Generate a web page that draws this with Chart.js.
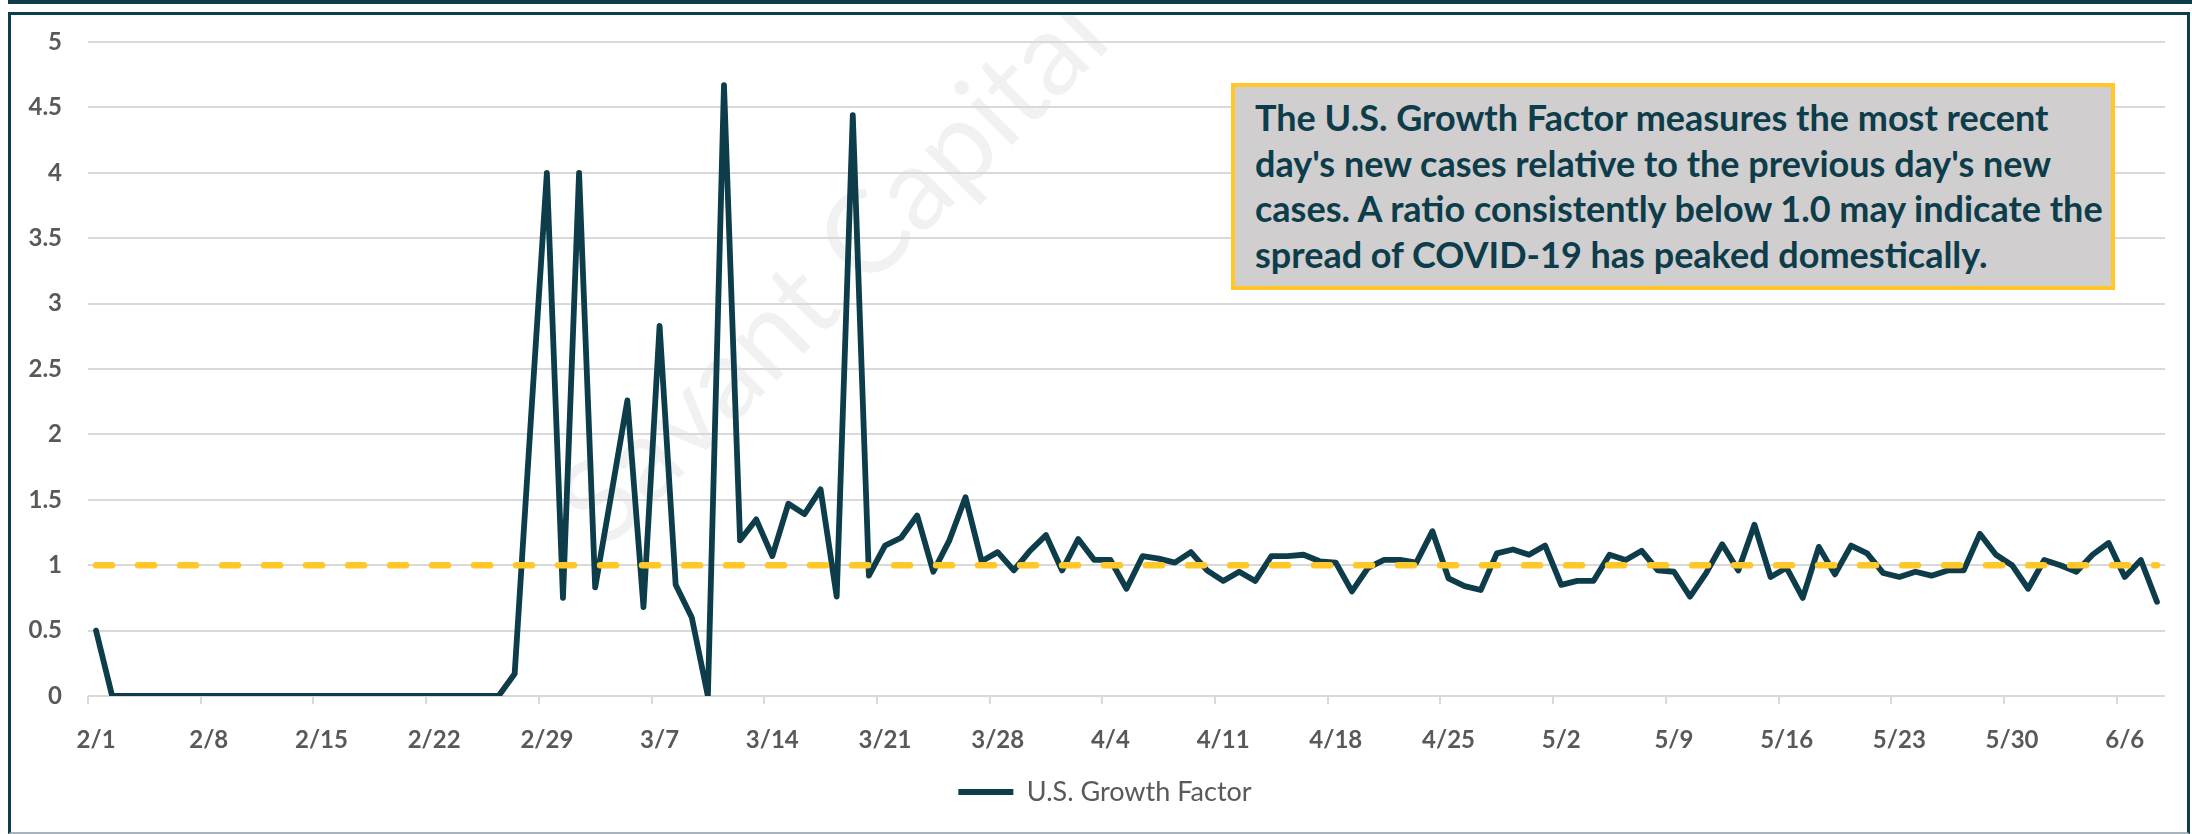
<!DOCTYPE html>
<html lang="en">
<head>
  <meta charset="UTF-8">
  <title>U.S. Growth Factor</title>
  <script src="https://cdn.jsdelivr.net/npm/chart.js"></script>
  <style>
    body { margin: 0; background: #fff; }
    #wrap { position: relative; width: 2192px; height: 834px; overflow: hidden; }
    #prev { position: absolute; left: 8px; top: -10px; width: 2184px; height: 14px;
            border-left: 4px solid #0d3c4b; border-bottom: 4px solid #0d3c4b; box-sizing: border-box; }
    #frame { position: absolute; left: 8px; top: 12px; width: 2182px; height: 822px;
             border: 3px solid #0d3c4b; border-bottom: 2px solid #a7b4ba; box-sizing: border-box; pointer-events: none; }
    #note { position: absolute; left: 1231px; top: 83px; width: 884px; height: 207px; box-sizing: border-box;
            border: 4px solid #ffc828; background: #d0cece; padding: 8px 0 0 20px;
            font: bold 36px Lato, sans-serif; line-height: 45.5px; color: #0d3c4b; white-space: nowrap; }
  </style>
</head>
<body>
  <div id="wrap">
    <canvas id="chart"></canvas>
    <div id="prev"></div>
    <div id="frame"></div>
    <div id="note">The U.S. Growth Factor measures the most recent<br>day's new cases relative to the previous day's new<br>cases. A ratio consistently below 1.0 may indicate the<br>spread of COVID-19 has peaked domestically.</div>
  </div>

  <script>
    // daily growth factor, 2/1 through 6/8
    const growthFactor = [
      0.5, 0, 0, 0, 0, 0, 0, 0, 0, 0, 0, 0, 0, 0, 0, 0, 0, 0, 0, 0, 0, 0, 0, 0, 0, 0,
      0.17, 2.1, 4.0, 0.75, 4.0, 0.83, 1.54, 2.26, 0.68, 2.83, 0.85, 0.6, 0.0, 4.67,
      1.19, 1.35, 1.07, 1.47, 1.39, 1.58, 0.76, 4.44, 0.92, 1.15, 1.21, 1.38, 0.95,
      1.19, 1.52, 1.03, 1.10, 0.96, 1.11, 1.23, 0.96, 1.20, 1.04, 1.04, 0.82, 1.07,
      1.05, 1.02, 1.10, 0.96, 0.88, 0.95, 0.88, 1.07, 1.07, 1.08, 1.03, 1.02, 0.80,
      0.98, 1.04, 1.04, 1.02, 1.26, 0.90, 0.84, 0.81, 1.09, 1.12, 1.08, 1.15, 0.85,
      0.88, 0.88, 1.08, 1.04, 1.11, 0.96, 0.95, 0.76, 0.94, 1.16, 0.96, 1.31, 0.91,
      0.98, 0.75, 1.14, 0.93, 1.15, 1.09, 0.94, 0.91, 0.95, 0.92, 0.96, 0.96, 1.24,
      1.08, 1.00, 0.82, 1.04, 1.00, 0.95, 1.08, 1.17, 0.91, 1.04, 0.72
    ];
    const thresholdValue = 1.0;
    const labelEvery = 7;

    // category labels m/d starting 2/1/2020
    const dates = [];
    for (let i = 0; i < growthFactor.length; i++) {
      const d = new Date(2020, 1, 1 + i);
      dates.push((d.getMonth() + 1) + "/" + d.getDate());
    }
    const threshold = dates.map(() => thresholdValue);

    const teal = "#0d3c4b";
    const gold = "#ffc828";
    const grey = "#595959";
    const gridGrey = "#d9d9d9";

    // faint watermark behind the plot
    const watermark = {
      id: "watermark",
      beforeDraw(chart) {
        const ctx = chart.ctx;
        ctx.save();
        ctx.beginPath();
        ctx.rect(11, 15, 2176, 816);
        ctx.clip();
        ctx.translate(580, 525);
        ctx.rotate(-Math.PI / 4);
        ctx.font = "115px Lato";
        ctx.fillStyle = "rgba(0,0,0,0.055)";
        ctx.textBaseline = "middle";
        ctx.fillText("Savant Capital Management", 0, 0);
        ctx.restore();
      },
      // y labels get clipped to the axis box; widen it without moving the labels
      afterLayout(chart) {
        chart.scales.y.left = 14;
      }
    };

    const canvas = document.getElementById("chart");
    canvas.style.width = "2192px";
    canvas.style.height = "834px";

    new Chart(canvas, {
      type: "line",
      data: {
        labels: dates,
        datasets: [
          {
            label: "U.S. Growth Factor",
            data: growthFactor,
            borderColor: teal,
            backgroundColor: teal,
            borderWidth: 5.8,
            borderJoinStyle: "round",
            borderCapStyle: "round",
            pointRadius: 0,
            tension: 0,
            order: 1
          },
          {
            label: "1.0",
            data: threshold,
            borderColor: gold,
            borderWidth: 6.5,
            borderDash: [16, 26],
            borderCapStyle: "round",
            pointRadius: 0,
            order: 0
          }
        ]
      },
      options: {
        responsive: false,
        animation: false,
        layout: { padding: { left: 45, right: 27, top: 42, bottom: 18.5 } },
        plugins: {
          legend: {
            position: "bottom",
            labels: {
              filter: item => item.datasetIndex === 0,
              usePointStyle: true,
              pointStyle: "line",
              pointStyleWidth: 55,
              color: grey,
              font: { family: "Lato", size: 27 },
              padding: 10
            }
          },
          tooltip: { enabled: false }
        },
        scales: {
          x: {
            offset: true,
            border: { display: false },
            grid: {
              offset: true,
              drawOnChartArea: false,
              tickLength: 8,
              lineWidth: 2,
              color: c => (c.index % labelEvery === 0 ? gridGrey : "transparent")
            },
            ticks: {
              autoSkip: false,
              maxRotation: 0,
              padding: 22,
              color: grey,
              font: { family: "Lato", size: 24, weight: "bold" },
              callback: (v, i) => (i % labelEvery === 0 ? dates[i] : "")
            },
            afterFit: s => { s.height = 72.5; }
          },
          y: {
            min: 0,
            max: 5,
            border: { display: false },
            grid: { color: gridGrey, lineWidth: 2, drawTicks: false },
            ticks: {
              stepSize: 0.5,
              padding: 26,
              color: grey,
              font: { family: "Lato", size: 24, weight: "bold" },
              callback: v => String(Math.round(v * 10) / 10)
            },
            afterFit: s => { s.width = 43; }
          }
        }
      },
      plugins: [watermark]
    });
  </script>
</body>
</html>
